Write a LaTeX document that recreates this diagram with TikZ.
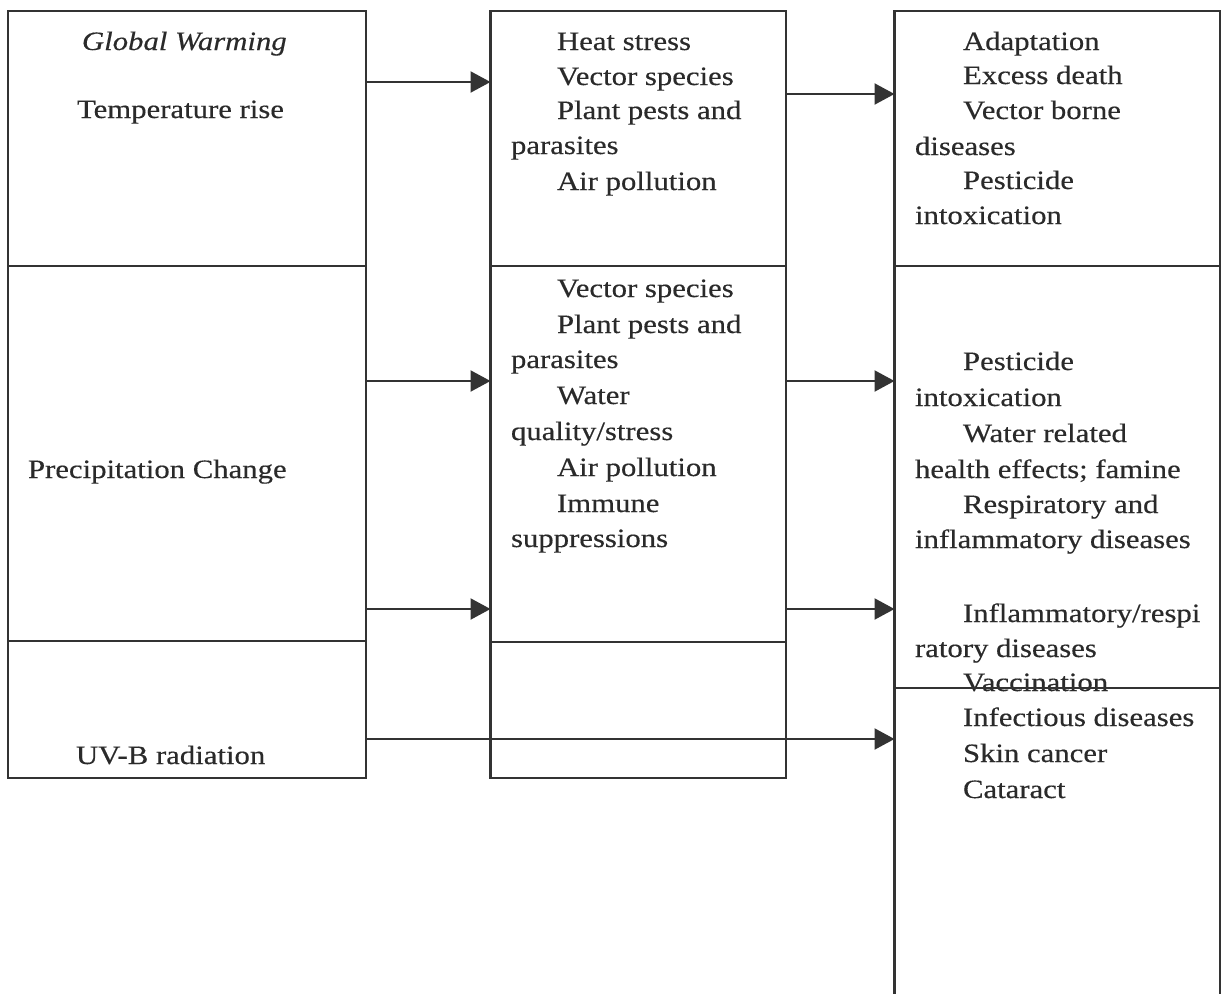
\documentclass[tikz,border=0pt]{standalone}
\usepackage{fontspec}
\setmainfont{Liberation Serif}[FakeStretch=1.16,FakeBold=0.35]
\usetikzlibrary{arrows.meta}
\definecolor{ink}{HTML}{2A2A2A}
\definecolor{rule}{HTML}{333333}
\tikzset{
  box/.style={draw=rule, line width=2.2pt, rectangle, inner sep=0pt, outer sep=0pt, anchor=north west},
  txt/.style={text=ink, inner sep=0pt, outer sep=0pt, anchor=base west, font=\fontsize{26.5}{32}\selectfont},
  arr/.style={draw=rule, line width=2.2pt, -{Triangle[length=20pt,width=21pt]}}
}
\newcommand\putline[4]{\node[txt] (#1) at (#2,#3) {#4};}
\begin{document}
\begin{tikzpicture}[x=1pt,y=-1pt]
\clip (0,0) rectangle (1228,993);
\fill[white] (0,0) rectangle (1228,993);
% left column
\node[box, minimum width=358pt, minimum height=255pt] (L1) at (8,11) {};
\node[box, minimum width=358pt, minimum height=375pt] (L2) at (8,266) {};
\node[box, minimum width=358pt, minimum height=137pt] (L3) at (8,641) {};
% middle column
\node[box, minimum width=295.5pt, minimum height=255pt] (M1) at (490.5,11) {};
\node[box, minimum width=295.5pt, minimum height=376pt] (M2) at (490.5,266) {};
\node[box, minimum width=295.5pt, minimum height=136pt] (M3) at (490.5,642) {};
% right column
\node[box, minimum width=325.5pt, minimum height=255pt] (R1) at (894.5,11) {};
\node[box, minimum width=325.5pt, minimum height=422pt] (R2) at (894.5,266) {};
\node[box, minimum width=325.5pt, minimum height=330pt] (R3) at (894.5,688) {};
% text left
\putline{gw}{82}{50}{\textit{Global Warming}}
\putline{tr}{77}{118}{Temperature rise}
\putline{pc}{28}{478}{Precipitation Change}
\putline{uv}{76}{764}{UV-B radiation}
% text middle top
\putline{m1a}{557}{50}{Heat stress}
\putline{m1b}{557}{85}{Vector species}
\putline{m1c}{557}{119}{Plant pests and}
\putline{m1d}{511}{154}{parasites}
\putline{m1e}{557}{190}{Air pollution}
% text middle second
\putline{m2a}{557}{297}{Vector species}
\putline{m2b}{557}{333}{Plant pests and}
\putline{m2c}{511}{368}{parasites}
\putline{m2d}{557}{404}{Water}
\putline{m2e}{511}{440}{quality/stress}
\putline{m2f}{557}{476}{Air pollution}
\putline{m2g}{557}{512}{Immune}
\putline{m2h}{511}{547}{suppressions}
% text right top
\putline{r1a}{963}{50}{Adaptation}
\putline{r1b}{963}{84}{Excess death}
\putline{r1c}{963}{119}{Vector borne}
\putline{r1d}{915}{155}{diseases}
\putline{r1e}{963}{189}{Pesticide}
\putline{r1f}{915}{224}{intoxication}
% text right middle
\putline{r2a}{963}{370}{Pesticide}
\putline{r2b}{915}{406}{intoxication}
\putline{r2c}{963}{442}{Water related}
\putline{r2d}{915}{478}{health effects; famine}
\putline{r2e}{963}{513}{Respiratory and}
\putline{r2f}{915}{548}{inflammatory diseases}
% text right lower
\putline{r3a}{963}{622}{Inflammatory/respi}
\putline{r3b}{915}{657}{ratory diseases}
\putline{r3c}{963}{691}{Vaccination}
\putline{r3d}{963}{726}{Infectious diseases}
\putline{r3e}{963}{762}{Skin cancer}
\putline{r3f}{963}{798}{Cataract}
% redraw the divider over "Vaccination"
\draw[rule, line width=2.2pt] (R3.north west) -- (R3.north east);
% arrow levels
\coordinate (ya) at (0,82);
\coordinate (yb) at (0,94);
\coordinate (yc) at (0,381);
\coordinate (yd) at (0,609);
\coordinate (ye) at (0,739);
\draw[arr] (L1.east |- ya) -- (M1.west |- ya);
\draw[arr] (M1.east |- yb) -- (R1.west |- yb);
\draw[arr] (L2.east |- yc) -- (M2.west |- yc);
\draw[arr] (M2.east |- yc) -- (R2.west |- yc);
\draw[arr] (L2.east |- yd) -- (M2.west |- yd);
\draw[arr] (M2.east |- yd) -- (R2.west |- yd);
\draw[arr] (L3.east |- ye) -- (R3.west |- ye);
\end{tikzpicture}
\end{document}
